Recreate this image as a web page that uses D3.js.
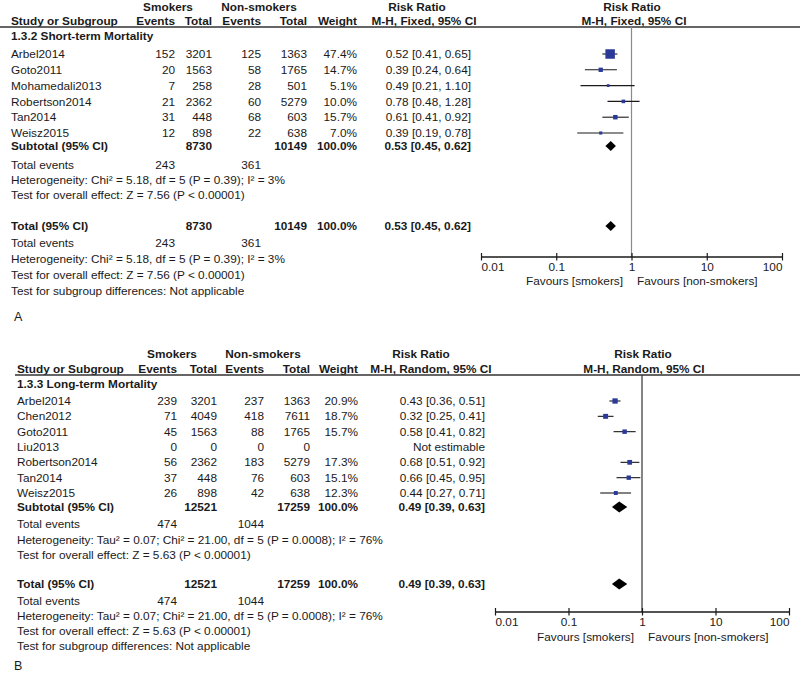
<!DOCTYPE html>
<html><head><meta charset="utf-8">
<script src="https://cdn.jsdelivr.net/npm/d3@7"></script>
<style>
body{margin:0;background:#fff;}
text{font-family:"Liberation Sans",Arial,sans-serif;font-size:11.8px;fill:#1a1a1a;}
.b{font-weight:bold;}
</style></head><body>
<svg id="c" width="800" height="673"></svg>
<script>
// ---------- Panel A data ----------
const studiesA   = ["Arbel2014","Goto2011","Mohamedali2013","Robertson2014","Tan2014","Weisz2015"];
const evSmA      = [152,20,7,21,31,12];
const totSmA     = [3201,1563,258,2362,448,898];
const evNonA     = [125,58,28,60,68,22];
const totNonA    = [1363,1765,501,5279,603,638];
const weightA    = [47.4,14.7,5.1,10.0,15.7,7.0];
const rrA        = [0.52,0.39,0.49,0.78,0.61,0.39];
const loA        = [0.41,0.24,0.21,0.48,0.41,0.19];
const hiA        = [0.65,0.64,1.10,1.28,0.92,0.78];
const pooledA    = {rr:0.53, lo:0.45, hi:0.62, totSm:8730, totNon:10149, evSm:243, evNon:361};

// ---------- Panel B data ----------
const studiesB   = ["Arbel2014","Chen2012","Goto2011","Liu2013","Robertson2014","Tan2014","Weisz2015"];
const evSmB      = [239,71,45,0,56,37,26];
const totSmB     = [3201,4049,1563,0,2362,448,898];
const evNonB     = [237,418,88,0,183,76,42];
const totNonB    = [1363,7611,1765,0,5279,603,638];
const weightB    = [20.9,18.7,15.7,null,17.3,15.1,12.3];
const rrB        = [0.43,0.32,0.58,null,0.68,0.66,0.44];
const loB        = [0.36,0.25,0.41,null,0.51,0.45,0.27];
const hiB        = [0.51,0.41,0.82,null,0.92,0.95,0.71];
const pooledB    = {rr:0.49, lo:0.39, hi:0.63, totSm:12521, totNon:17259, evSm:474, evNon:1044};

const tickVals   = [0.01,0.1,1,10,100];
const tickLabels = ["0.01","0.1","1","10","100"];

const svg = d3.select("#c");
const sqScale = d3.scaleLinear().domain([0,50]).range([2,9.9]);
const f2 = d3.format(".2f"), f1 = d3.format(".1f");

function txt(g, x, y, s, anchor, bold, size){
  const t = g.append("text").attr("x",x).attr("y",y).attr("dy","0.35em")
    .attr("text-anchor",anchor||"start").text(s);
  if(bold) t.attr("class","b");
  if(size) t.style("font-size",size);
  return t;
}

function panel(cfg){
  const g = svg.append("g");
  const C = cfg.col;
  // headers
  txt(g,C.smk,cfg.h1,"Smokers","middle",true);
  txt(g,C.non,cfg.h1,"Non-smokers","middle",true);
  txt(g,C.rrHead,cfg.h1,"Risk Ratio","middle",true);
  txt(g,cfg.fpHead,cfg.h1,"Risk Ratio","middle",true);
  txt(g,C.study,cfg.h2,"Study or Subgroup","start",true);
  txt(g,C.ev1,cfg.h2,"Events","end",true);
  txt(g,C.tot1,cfg.h2,"Total","end",true);
  txt(g,C.ev2,cfg.h2,"Events","end",true);
  txt(g,C.tot2,cfg.h2,"Total","end",true);
  txt(g,C.wt,cfg.h2,"Weight","end",true);
  txt(g,C.mhHead,cfg.h2,cfg.method,"middle",true);
  txt(g,cfg.fpHead2,cfg.h2,cfg.method,"middle",true);
  g.append("line").attr("x1",cfg.ruleX0).attr("x2",800).attr("y1",cfg.ruleY).attr("y2",cfg.ruleY)
    .attr("stroke","#333").attr("stroke-width",1.3);
  txt(g,C.study,cfg.group,cfg.groupLabel,"start",true);

  const y = d3.scalePoint().domain(cfg.studies).range(cfg.rows);
  const x = d3.scaleLog().domain([0.01,100]).range(cfg.axisRange);

  // vertical null line
  g.append("line").attr("x1",x(1)).attr("x2",x(1)).attr("y1",cfg.ruleY).attr("y2",cfg.axisY)
    .attr("stroke",cfg.vColor).attr("stroke-width",1.2);

  cfg.studies.forEach((s,i)=>{
    const yy = y(s);
    txt(g,C.study,yy,s);
    txt(g,C.ev1,yy,cfg.evSm[i],"end");
    txt(g,C.tot1,yy,cfg.totSm[i],"end");
    txt(g,C.ev2,yy,cfg.evNon[i],"end");
    txt(g,C.tot2,yy,cfg.totNon[i],"end");
    if(cfg.rr[i]==null){
      txt(g,C.ci,yy,"Not estimable","end");
      return;
    }
    txt(g,C.wt,yy,f1(cfg.weight[i])+"%","end");
    txt(g,C.ci,yy,`${f2(cfg.rr[i])} [${f2(cfg.lo[i])}, ${f2(cfg.hi[i])}]`,"end");
    g.append("line").attr("x1",x(cfg.lo[i])).attr("x2",x(cfg.hi[i])).attr("y1",yy).attr("y2",yy)
      .attr("stroke","#1a1a1a").attr("stroke-width",1.1);
    const sz = sqScale(cfg.weight[i]);
    g.append("rect").attr("x",x(cfg.rr[i])-sz/2).attr("y",yy-sz/2).attr("width",sz).attr("height",sz)
      .attr("fill","#2b3a98");
  });

  const P = cfg.pooled;
  function diamond(yy){
    const h = cfg.diaH/2;
    g.append("path").attr("d",`M${x(P.lo)},${yy}L${x(P.rr)},${yy-h}L${x(P.hi)},${yy}L${x(P.rr)},${yy+h}Z`)
      .attr("fill","#000");
  }
  function pooledRow(yy,label){
    txt(g,C.study,yy,label,"start",true);
    txt(g,C.tot1,yy,P.totSm,"end",true);
    txt(g,C.tot2,yy,P.totNon,"end",true);
    txt(g,C.wt,yy,"100.0%","end",true);
    txt(g,C.ci,yy,`${f2(P.rr)} [${f2(P.lo)}, ${f2(P.hi)}]`,"end",true);
    diamond(yy);
  }
  function summary(ys){
    txt(g,C.study,ys[0],"Total events");
    txt(g,C.ev1,ys[0],P.evSm,"end");
    txt(g,C.ev2,ys[0],P.evNon,"end");
    txt(g,C.study,ys[1],cfg.het);
    txt(g,C.study,ys[2],cfg.test);
  }
  pooledRow(cfg.subY,"Subtotal (95% CI)");
  summary(cfg.sum1);
  pooledRow(cfg.totY,"Total (95% CI)");
  summary(cfg.sum2);
  txt(g,C.study,cfg.sum2[3],"Test for subgroup differences: Not applicable");

  // axis
  const ax = g.append("g").attr("transform",`translate(0,${cfg.axisY})`)
    .call(d3.axisBottom(x).tickValues(tickVals).tickFormat((d,i)=>tickLabels[i]).tickSize(4));
  ax.select(".domain").attr("stroke","#1a1a1a").attr("stroke-width",1.3).attr("d",`M${x(0.01)},0H${x(100)}`);
  ax.selectAll(".tick line").attr("y1",-4).attr("y2",3.5).attr("stroke","#1a1a1a").attr("stroke-width",1.2);
  ax.selectAll(".tick text")
    .attr("y",10).attr("dy","0.35em")
    .attr("text-anchor",(d,i)=> i===0 ? "start" : (i===tickVals.length-1 ? "end" : "middle"))
    .style("font-family","Liberation Sans, Arial, sans-serif").style("font-size","11.8px").attr("fill","#1a1a1a");
  txt(g,cfg.favL,cfg.favY,"Favours [smokers]","end");
  txt(g,cfg.favR,cfg.favY,"Favours [non-smokers]","start");

  txt(g,cfg.lblX,cfg.lblY,cfg.lbl,"start",false,"12.5px");
}

panel({
  studies:studiesA, evSm:evSmA, totSm:totSmA, evNon:evNonA, totNon:totNonA,
  weight:weightA, rr:rrA, lo:loA, hi:hiA, pooled:pooledA,
  method:"M-H, Fixed, 95% CI", groupLabel:"1.3.2 Short-term Mortality",
  het:"Heterogeneity: Chi² = 5.18, df = 5 (P = 0.39); I² = 3%",
  test:"Test for overall effect: Z = 7.56 (P < 0.00001)",
  col:{study:11,ev1:175,tot1:212,ev2:261,tot2:307,wt:357,ci:471,smk:168,non:259,rrHead:417,mhHead:424},
  fpHead:632, fpHead2:634,
  h1:6.5, h2:20.5, ruleY:27, ruleX0:0, group:36, rows:[54,133],
  subY:146, sum1:[165,180,195], totY:226, sum2:[243,259,275,291],
  axisY:257, axisRange:[481,782], favY:281, favL:623, favR:637,
  vColor:"#8a8a8a", diaH:10, lbl:"A", lblX:14, lblY:317
});

panel({
  studies:studiesB, evSm:evSmB, totSm:totSmB, evNon:evNonB, totNon:totNonB,
  weight:weightB, rr:rrB, lo:loB, hi:hiB, pooled:pooledB,
  method:"M-H, Random, 95% CI", groupLabel:"1.3.3 Long-term Mortality",
  het:"Heterogeneity: Tau² = 0.07; Chi² = 21.00, df = 5 (P = 0.0008); I² = 76%",
  test:"Test for overall effect: Z = 5.63 (P < 0.00001)",
  col:{study:17,ev1:177,tot1:217,ev2:264,tot2:310,wt:358,ci:485,smk:172,non:263,rrHead:421,mhHead:431},
  fpHead:643, fpHead2:644,
  h1:354, h2:369, ruleY:375, ruleX0:15, group:384, rows:[401,493],
  subY:507, sum1:[524,540,555], totY:584, sum2:[601,616,631,646],
  axisY:612, axisRange:[495,789], favY:637, favL:634, favR:648,
  vColor:"#333", diaH:11, lbl:"B", lblX:14, lblY:666
});
</script></body></html>
